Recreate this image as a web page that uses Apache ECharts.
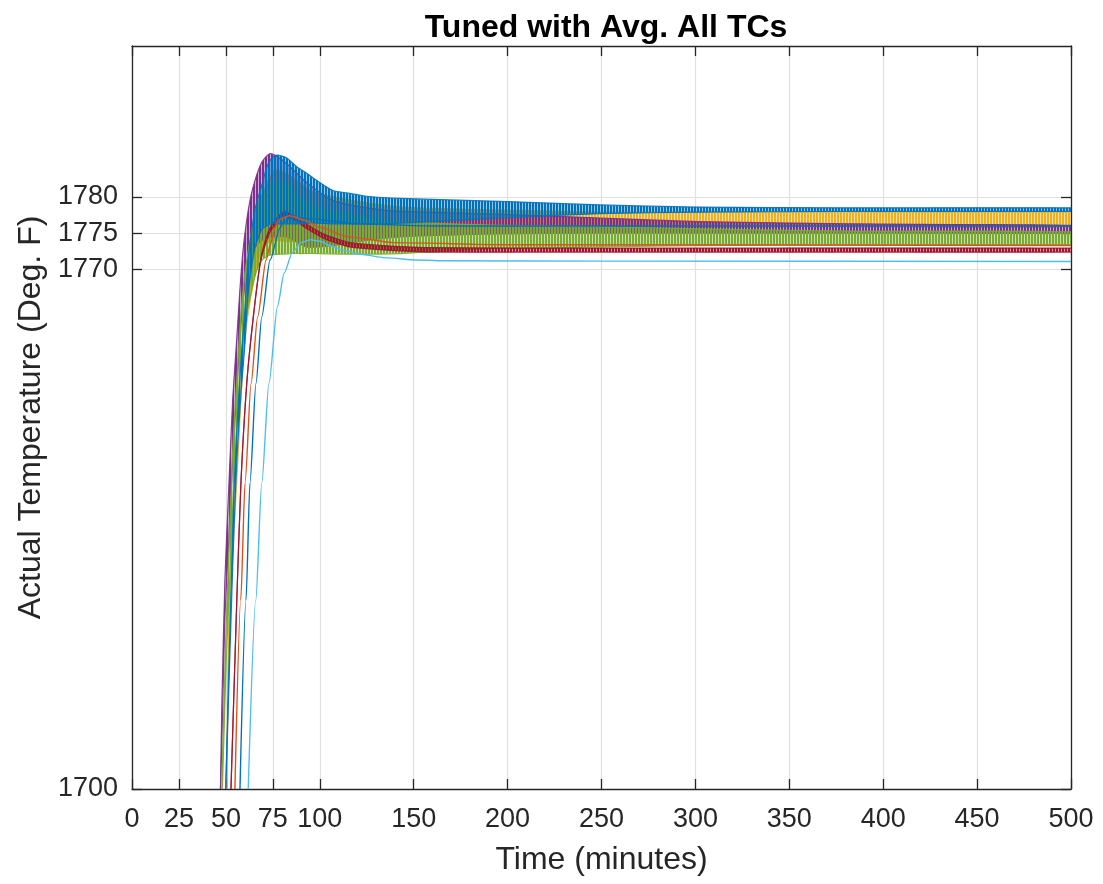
<!DOCTYPE html>
<html>
<head>
<meta charset="utf-8">
<title>Tuned with Avg. All TCs</title>
<script src="https://cdn.jsdelivr.net/npm/echarts@6/dist/echarts.min.js"></script>
<style>
  html, body { margin: 0; padding: 0; background: #ffffff; }
  #chart { width: 1103px; height: 884px; }
</style>
</head>
<body>
<div id="chart"></div>
<script>
// Axis ticks
const xTicks = [0, 25, 50, 75, 100, 150, 200, 250, 300, 350, 400, 450, 500];
const yTicks = [1700, 1770, 1775, 1780];

// Thermocouple traces (time in minutes, temperature in deg F)
// TC A – smooth blue
const tA = [57.5, 60.7, 62.8, 66.0, 69.1, 73.5, 78.8, 80.6, 85, 95, 120, 160, 250, 500];
const vA = [1700, 1725.1, 1740.9, 1754.4, 1763.5, 1771.3, 1775.7, 1776.5, 1777.2, 1777.0, 1776.3, 1776.0, 1776.0, 1776.0];

// TC B – smooth orange
const tB = [54.8, 57.9, 60.2, 63.4, 66.9, 71.4, 73.5, 76.1, 77.7, 84, 92, 100, 115, 140, 200, 500];
const vB = [1700, 1725.1, 1740.9, 1754.4, 1763.5, 1771.3, 1773.3, 1775.7, 1776.8, 1777.4, 1776.8, 1775.8, 1774.5, 1773.7, 1773.4, 1773.3];

// TC C – oscillating yellow (low / high swing)
const tC = [50.6, 51.7, 56.6, 58.4, 60.2, 62.8, 67.1, 71.4, 76.1, 84, 95, 116, 143, 196, 249, 302, 382, 500];
const loC = [1700, 1721.0, 1745.0, 1754.0, 1760.5, 1765.5, 1771.0, 1773.5, 1774.0, 1773.8, 1774.2, 1774.8, 1775.2, 1775.5, 1775.7, 1775.8, 1775.9, 1775.9];
const hiC = [1700, 1723.8, 1747.4, 1756.6, 1763.2, 1768.6, 1776.8, 1781.6, 1783.7, 1783.0, 1780.9, 1779.6, 1778.6, 1778.2, 1777.9, 1777.9, 1777.9, 1777.9];

// TC D – oscillating purple
const tD = [47.1, 47.9, 49.5, 51.7, 53.6, 55.8, 57.5, 59.1, 61.1, 63.2, 65.5, 67.3, 69.1, 71.4, 73.5, 76.1, 82.4, 93, 107, 125, 143, 196, 249, 302, 382, 500];
const loD = [1700, 1706.5, 1723.0, 1734.0, 1744.0, 1753.5, 1760.5, 1765.5, 1769.5, 1772.0, 1773.0, 1773.6, 1774.0, 1774.3, 1774.4, 1774.5, 1774.5, 1773.1, 1773.3, 1774.0, 1774.5, 1774.9, 1775.0, 1775.0, 1775.0, 1775.0];
const hiD = [1700, 1711.8, 1728.1, 1741.3, 1752.1, 1760.6, 1767.4, 1772.6, 1776.8, 1780.0, 1782.3, 1783.7, 1784.8, 1785.6, 1786.0, 1785.8, 1784.6, 1782.0, 1779.5, 1778.5, 1778.0, 1777.6, 1777.1, 1776.6, 1776.3, 1776.1];

// TC E – oscillating green
const tE = [47.9, 48.2, 50.1, 52.2, 53.8, 55.8, 57.5, 59.6, 62.8, 66.0, 69.2, 73.5, 78.8, 84.1, 89.5, 100, 116, 143, 196, 249, 302, 382, 500];
const loE = [1700, 1700.5, 1716.5, 1729.0, 1738.5, 1748.5, 1756.0, 1761.5, 1766.0, 1769.5, 1771.3, 1772.0, 1772.1, 1772.2, 1772.2, 1772.2, 1772.1, 1772.2, 1772.9, 1773.1, 1773.3, 1773.4, 1773.4];
const hiE = [1700, 1704.2, 1721.4, 1735.7, 1746.3, 1754.8, 1762.1, 1768.4, 1774.0, 1778.2, 1780.3, 1781.6, 1782.0, 1781.6, 1780.0, 1778.5, 1777.6, 1776.6, 1776.1, 1775.9, 1775.6, 1775.3, 1775.2];

// TC F – smooth cyan
const tF = [61.9, 65.9, 69.1, 72.9, 77.5, 81, 85.5, 90, 95, 100, 105.4, 113, 121.4, 135.6, 151.6, 169.3, 250, 500];
const vF = [1700, 1725.1, 1740.9, 1754.4, 1765.0, 1769.5, 1772.4, 1773.7, 1774.1, 1773.9, 1773.3, 1772.6, 1772.1, 1771.6, 1771.3, 1771.2, 1771.15, 1771.1];

// TC G – dark red with a small ripple
const tG = [52.7, 55.8, 58.0, 61.1, 64.6, 68.5, 72.4, 75.1, 80.9, 88.4, 93.2, 102.8, 116, 133.7, 160, 250, 500];
const loG = [1700, 1725.1, 1740.9, 1754.4, 1763.5, 1771.1, 1774.5, 1775.8, 1777.4, 1776.5, 1775.6, 1774.2, 1773.1, 1772.7, 1772.4, 1772.4, 1772.4];
const hiG = [1700, 1725.1, 1740.9, 1754.4, 1763.5, 1771.4, 1775.1, 1776.4, 1778.0, 1777.1, 1776.2, 1774.8, 1773.7, 1773.3, 1773.0, 1772.95, 1772.95];

// TC H – oscillating blue
const tH = [49.9, 53.8, 55.8, 58.0, 60.2, 61.8, 65.5, 69.1, 71.7, 74.4, 77.2, 82.4, 87.7, 93, 98.3, 107, 116, 125, 142.7, 196, 249, 302, 382, 500];
const loH = [1700, 1731.0, 1744.0, 1753.0, 1760.0, 1766.5, 1773.0, 1775.5, 1776.0, 1776.3, 1776.3, 1776.3, 1776.3, 1776.4, 1776.4, 1776.3, 1776.3, 1776.3, 1776.4, 1777.1, 1777.7, 1777.9, 1778.0, 1778.0];
const hiH = [1700, 1736.3, 1748.0, 1757.3, 1764.9, 1771.3, 1778.3, 1781.6, 1784.1, 1785.4, 1785.8, 1785.4, 1784.2, 1783.3, 1782.3, 1780.9, 1780.5, 1780.1, 1779.8, 1779.4, 1778.9, 1778.6, 1778.5, 1778.5];

const C = {
  blue: '#0072BD', orange: '#D95319', yellow: '#EDB120', purple: '#7E2F8E',
  green: '#77AC30', cyan: '#4DBEEE', red: '#A2142F'
};
const INK = '#262626';
const FONT = '"Liberation Sans", Helvetica, Arial, sans-serif';

// Fine vertical hatching that reads like a rapid oscillation
function hatch(color, phase) {
  const cv = document.createElement('canvas');
  cv.width = 3; cv.height = 4;
  const g = cv.getContext('2d');
  g.fillStyle = color;
  for (let k = 0; k < 3; k++) {
    g.globalAlpha = (k === 2) ? 0.4 : 1;
    g.fillRect((k + phase) % 3, 0, 1, 4);
  }
  return { image: cv, repeat: 'repeat' };
}

function lineSeries(name, color, t, v) {
  return {
    name, type: 'line', showSymbol: false, symbol: 'none',
    smooth: 0.25, smoothMonotone: 'x',
    data: t.map((ti, i) => [ti, v[i]]),
    lineStyle: { color, width: 1.4 },
    itemStyle: { color },
    clip: true, animation: false, silent: true
  };
}

function bandSeries(name, color, t, lo, hi, phase) {
  const fill = hatch(color, phase);
  return {
    name, type: 'custom', clip: true, animation: false, silent: true,
    encode: { x: 0, y: [1, 2] },
    data: t.map((ti, i) => [ti, lo[i], hi[i]]),
    renderItem: (params, api) => {
      if (params.dataIndex !== 0) return null;
      const up = t.map((ti, i) => api.coord([ti, hi[i]]));
      const dn = t.map((ti, i) => api.coord([ti, lo[i]]));
      return {
        type: 'group',
        children: [
          { type: 'polygon', shape: { points: up.concat(dn.slice().reverse()), smooth: 0.2 },
            style: { fill: fill, stroke: null } },
          { type: 'polyline', shape: { points: up, smooth: 0.2 },
            style: { stroke: color, lineWidth: 1.2, fill: null, opacity: 0.9 } },
          { type: 'polyline', shape: { points: dn, smooth: 0.2 },
            style: { stroke: color, lineWidth: 1.2, fill: null, opacity: 0.9 } }
        ]
      };
    }
  };
}

const axisLine = { show: true, onZero: false, lineStyle: { color: INK, width: 1.3 } };
const tickStyle = { color: INK, width: 1.3 };
const gridLine = { show: true, lineStyle: { color: '#e0e0e0', width: 1.2 } };

const chart = echarts.init(document.getElementById('chart'), null, { renderer: 'canvas' });
chart.setOption({
  backgroundColor: '#ffffff',
  animation: false,
  title: {
    text: 'Tuned with Avg. All TCs',
    left: 601, top: 7, textAlign: 'center',
    textStyle: { fontFamily: FONT, fontSize: 32, fontWeight: 'bold', color: '#000000' }
  },
  grid: { left: 132, right: 32, top: 46, bottom: 95, containLabel: false },
  xAxis: [
    {
      type: 'value', min: 0, max: 500, position: 'bottom',
      axisLine,
      axisTick: { show: true, inside: true, length: 10, customValues: xTicks, lineStyle: tickStyle },
      axisLabel: { customValues: xTicks, fontFamily: FONT, fontSize: 27, color: INK, margin: 17 },
      splitLine: gridLine,
      name: 'Time (minutes)', nameLocation: 'middle', nameGap: 55,
      nameTextStyle: { fontFamily: FONT, fontSize: 32, color: INK }
    },
    {
      type: 'value', min: 0, max: 500, position: 'top',
      axisLine,
      axisTick: { show: true, inside: true, length: 10, customValues: xTicks, lineStyle: tickStyle },
      axisLabel: { show: false },
      splitLine: { show: false }
    }
  ],
  yAxis: [
    {
      type: 'log', logBase: 10, min: 1700, max: 1801, position: 'left',
      axisLine,
      axisTick: { show: true, inside: true, length: 10, customValues: yTicks, lineStyle: tickStyle },
      axisLabel: { customValues: yTicks, fontFamily: FONT, fontSize: 27, color: INK, margin: 14,
                   formatter: v => String(Math.round(v)) },
      splitLine: gridLine,
      name: 'Actual Temperature (Deg. F)', nameLocation: 'middle', nameGap: 84,
      nameTextStyle: { fontFamily: FONT, fontSize: 32, color: INK }
    },
    {
      type: 'log', logBase: 10, min: 1700, max: 1801, position: 'right',
      axisLine,
      axisTick: { show: true, inside: true, length: 10, customValues: yTicks, lineStyle: tickStyle },
      axisLabel: { show: false },
      splitLine: { show: false }
    }
  ],
  series: [
    lineSeries('TC A', C.blue, tA, vA),
    lineSeries('TC B', C.orange, tB, vB),
    bandSeries('TC C', C.yellow, tC, loC, hiC, 0),
    bandSeries('TC D', C.purple, tD, loD, hiD, 1),
    bandSeries('TC E', C.green, tE, loE, hiE, 2),
    lineSeries('TC F', C.cyan, tF, vF),
    bandSeries('TC G', C.red, tG, loG, hiG, 0),
    bandSeries('TC H', C.blue, tH, loH, hiH, 1)
  ]
});
</script>
</body>
</html>
